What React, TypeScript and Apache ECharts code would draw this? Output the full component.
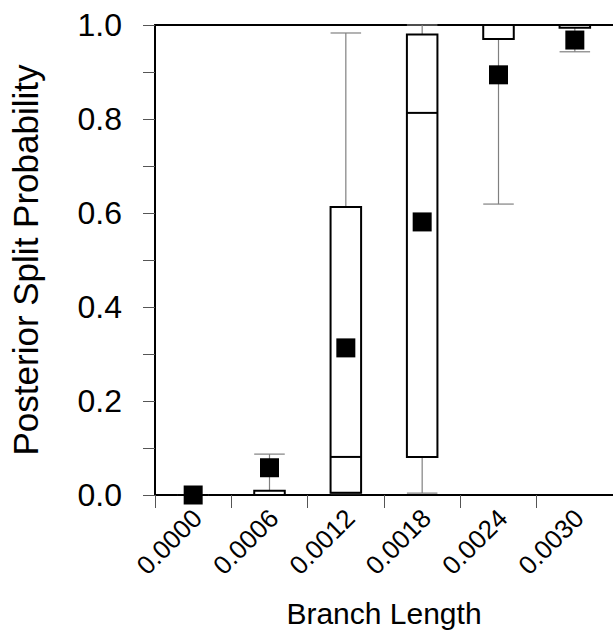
import React, { useEffect, useRef } from "react";
import * as echarts from "echarts";

const categories = ["0.0000", "0.0006", "0.0012", "0.0018", "0.0024", "0.0030"];
const lows = [0, 0, 0.003, 0.004, 0.619, 0.943];
const q1s = [0, 0, 0.005, 0.081, 0.97, 0.994];
const medians = [0, 0, 0.081, 0.813, 1.0, 1.0];
const q3s = [0, 0.009, 0.613, 0.98, 1.0, 1.0];
const highs = [0, 0.087, 0.983, 1.0, 1.0, 1.0];
const means = [0, 0.058, 0.313, 0.581, 0.894, 0.968];

const FONT = "Liberation Sans, Arial, sans-serif";

export default function App() {
  const ref = useRef<HTMLDivElement>(null);
  useEffect(() => {
    if (!ref.current) return;
    const chart = echarts.init(ref.current, null, { renderer: "svg" });
    const boxData = categories.map((_, i) => [i, lows[i], q1s[i], medians[i], q3s[i], highs[i]]);
    const whiskerColor = "#808080";
    const option: any = {
      animation: false,
      backgroundColor: "#ffffff",
      grid: { left: 150, top: 25, width: 471, height: 470 },
      xAxis: [
        {
          type: "category",
          data: categories,
          position: "bottom",
          name: "Branch Length",
          nameLocation: "middle",
          nameGap: 103,
          nameTextStyle: { fontFamily: FONT, fontSize: 30, color: "#000" },
          axisLine: { show: true, lineStyle: { color: "#000", width: 2 } },
          axisTick: { show: true, length: 13, lineStyle: { color: "#555", width: 1 } },
          axisLabel: {
            rotate: 45,
            margin: 23,
            fontFamily: FONT,
            fontSize: 26,
            color: "#000",
            padding: [0, -6, 0, 0],
          },
          splitLine: { show: false },
        },
        {
          type: "category",
          data: categories,
          position: "top",
          axisLine: { show: true, lineStyle: { color: "#000", width: 2 } },
          axisTick: { show: false },
          axisLabel: { show: false },
          splitLine: { show: false },
        },
      ],
      yAxis: {
        type: "value",
        min: 0,
        max: 1,
        interval: 0.2,
        name: "Posterior Split Probability",
        nameLocation: "middle",
        nameGap: 112,
        nameRotate: 90,
        nameTextStyle: { fontFamily: FONT, fontSize: 35, color: "#000" },
        axisLine: { show: true, lineStyle: { color: "#000", width: 2 } },
        axisTick: { show: true, length: 12, lineStyle: { color: "#555", width: 1 } },
        minorTick: { show: true, splitNumber: 2, length: 12, lineStyle: { color: "#555", width: 1 } },
        axisLabel: {
          margin: 33,
          fontFamily: FONT,
          fontSize: 32,
          color: "#000",
          formatter: (v: number) => v.toFixed(1),
        },
        splitLine: { show: false },
      },
      series: [
        {
          type: "custom",
          clip: false,
          data: boxData,
          renderItem: (params: any, api: any) => {
            const idx = api.value(0);
            const low = api.coord([idx, api.value(1)]);
            const q1 = api.coord([idx, api.value(2)]);
            const med = api.coord([idx, api.value(3)]);
            const q3 = api.coord([idx, api.value(4)]);
            const high = api.coord([idx, api.value(5)]);
            const w = api.size([1, 0])[0] * 0.4;
            const cx = q1[0];
            const gStyle = { stroke: whiskerColor, lineWidth: 1.2, fill: "none" };
            const bStyle = { stroke: "#000", lineWidth: 2 };
            return {
              type: "group",
              children: [
                { type: "line", shape: { x1: cx, y1: q1[1], x2: cx, y2: low[1] }, style: gStyle },
                { type: "line", shape: { x1: cx, y1: q3[1], x2: cx, y2: high[1] }, style: gStyle },
                { type: "line", shape: { x1: cx - w / 2, y1: low[1], x2: cx + w / 2, y2: low[1] }, style: gStyle },
                { type: "line", shape: { x1: cx - w / 2, y1: high[1], x2: cx + w / 2, y2: high[1] }, style: gStyle },
                {
                  type: "rect",
                  shape: { x: cx - w / 2, y: q3[1], width: w, height: q1[1] - q3[1] },
                  style: { stroke: "#000", lineWidth: 2, fill: "#fff" },
                },
                { type: "line", shape: { x1: cx - w / 2, y1: med[1], x2: cx + w / 2, y2: med[1] }, style: bStyle },
              ],
            };
          },
          z: 2,
        },
        {
          type: "scatter",
          data: means.map((m, i) => [i, m]),
          symbol: "rect",
          symbolSize: 19,
          itemStyle: { color: "#000", opacity: 1 },
          clip: false,
          z: 5,
        },
      ],
    };
    chart.setOption(option);
    return () => chart.dispose();
  }, []);
  return (
    <div
      ref={ref}
      style={{ position: "absolute", left: 0, top: 0, width: 613, height: 634 }}
    />
  );
}
